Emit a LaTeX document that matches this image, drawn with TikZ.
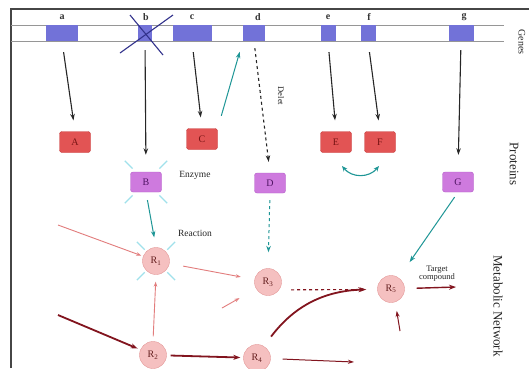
\documentclass[tikz,border=0pt]{standalone}
\usepackage{fontspec}
\setmainfont{Liberation Serif}
\usetikzlibrary{arrows.meta,calc}
\definecolor{geneblue}{RGB}{114,114,216}
\definecolor{xblue}{RGB}{50,50,140}
\definecolor{protred}{RGB}{226,84,84}
\definecolor{protredb}{RGB}{200,62,62}
\definecolor{protredt}{RGB}{120,20,20}
\definecolor{protpur}{RGB}{206,122,222}
\definecolor{protpurb}{RGB}{180,92,200}
\definecolor{protpurt}{RGB}{80,20,100}
\definecolor{metpink}{RGB}{245,192,192}
\definecolor{metpinkb}{RGB}{228,152,152}
\definecolor{mettext}{RGB}{100,30,30}
\definecolor{tealc}{RGB}{30,150,150}
\definecolor{burst}{RGB}{160,225,235}
\definecolor{salmon}{RGB}{226,124,124}
\definecolor{darkred}{RGB}{130,20,30}
\definecolor{framec}{RGB}{70,70,70}
\definecolor{bandc}{RGB}{150,150,150}
\begin{document}
\begin{tikzpicture}[x=1pt,y=-1pt,
  gene/.style={fill=geneblue,draw=none,minimum height=16pt,inner sep=0pt},
  glabel/.style={font=\fontsize{10}{12}\selectfont\bfseries,text=black!80,inner sep=0pt},
  protA/.style={rounded corners=2.5pt,fill=protred,draw=protredb,minimum width=31pt,minimum height=21pt,inner sep=0pt,font=\fontsize{10}{12}\selectfont,text=protredt},
  protB/.style={rounded corners=2.5pt,fill=protpur,draw=protpurb,minimum width=31pt,minimum height=20pt,inner sep=0pt,font=\fontsize{10}{12}\selectfont,text=protpurt},
  met/.style={circle,fill=metpink,draw=metpinkb,minimum size=27pt,inner sep=0pt,font=\fontsize{10}{12}\selectfont,text=mettext},
  blk/.style={draw=black!85,line width=1.1pt,-{Stealth[length=6.5pt,width=4.5pt]}},
  tl/.style={draw=tealc,line width=1pt,-{Stealth[length=6.5pt,width=4.5pt]}},
  sal/.style={draw=salmon,line width=0.9pt,-{Stealth[length=5pt,width=3.5pt]}},
  drk/.style={draw=darkred,line width=1.8pt,-{Stealth[length=7pt,width=5pt]}},
  drkthin/.style={draw=darkred,line width=1pt,-{Stealth[length=6pt,width=4pt]}},
  small/.style={font=\fontsize{9.5}{10}\selectfont,text=black!85,inner sep=0pt,align=center},
  side/.style={font=\fontsize{13}{15}\selectfont,text=black!85,rotate=-90,inner sep=0pt},
  burstline/.style={draw=burst,line width=1.3pt}
]
\useasboundingbox (0,0) rectangle (529,368);
\fill[white] (0,0) rectangle (529,368);
% frame
\draw[framec,line width=1.5pt] (11,368) -- (11,9) -- (529,9);
\draw[bandc,line width=0.6pt] (11,25) -- (504,25);
\draw[bandc,line width=0.6pt] (11,41) -- (504,41);
% genes
\node[gene,minimum width=32pt] (ga) at (62,33) {};
\node[gene,minimum width=14pt] (gb) at (145,33) {};
\node[gene,minimum width=39pt] (gc) at (192,33) {};
\node[gene,minimum width=22pt] (gd) at (254,33) {};
\node[gene,minimum width=15pt] (ge) at (328,33) {};
\node[gene,minimum width=15pt] (gf) at (368,33) {};
\node[gene,minimum width=25pt] (gg) at (461,33) {};
\node[glabel] (la) at (62,17) {a};
\node[glabel] (lb) at (146,17) {b};
\node[glabel] (lc) at (192,17) {c};
\node[glabel] (ld) at (258,17) {d};
\node[glabel] (le) at (328,17) {e};
\node[glabel] (lf) at (369,17) {f};
\node[glabel] (lg) at (464,17) {g};
% cross over b
\coordinate (x1) at (120,53); \coordinate (x2) at (173,15);
\coordinate (x3) at (130,15); \coordinate (x4) at (163,55);
\draw[xblue,line width=1.1pt] (x1) -- (x2);
\draw[xblue,line width=1.1pt] (x3) -- (x4);
% side labels
\node[side,font=\fontsize{10}{12}\selectfont] (tgenes) at (522,42) {Genes};
\node[side] (tprot) at (514,164) {Proteins};
\node[side] (tmet) at (498,306) {Metabolic Network};
% proteins
\node[protA] (A) at (75,142) {A};
\node[protB] (B) at (146,182) {B};
\node[protA] (C) at (202,139) {C};
\node[protB] (D) at (270,183) {D};
\node[protA] (E) at (336,142) {E};
\node[protA] (F) at (380,142) {F};
\node[protB] (G) at (458,182) {G};
% metabolites
\node[met] (R1) at (156,261) {R\textsubscript{1}};
\node[met] (R3) at (268,282) {R\textsubscript{3}};
\node[met] (R2) at (153,355) {R\textsubscript{2}};
\node[met] (R4) at (257,358) {R\textsubscript{4}};
\node[met] (R5) at (391,289) {R\textsubscript{5}};
% bursts
\foreach \a in {45,135,225,315}{
  \draw[burstline] ($(B.center)+(\a:19)$) -- ($(B.center)+(\a:30)$);
  \draw[burstline] ($(R1.center)+(\a:16)$) -- ($(R1.center)+(\a:27)$);
}
% labels
\node[small] (lenz) at (195,175) {Enzyme};
\node[small] (lrea) at (195,233) {Reaction};
\node[small,font=\fontsize{8.5}{9}\selectfont] (ltar) at (437,274) {Target\\[-1pt]compound};
\node[small,rotate=-90,font=\fontsize{8.5}{9}\selectfont] (ldel) at (281,96) {Delet};
% gene -> protein
\draw[blk,shorten <=11pt,shorten >=11pt] (ga.south) -- (A.north);
\draw[blk,shorten <=9pt,shorten >=17pt] (gb.south) -- (B.north);
\draw[blk,shorten <=11pt,shorten >=11pt] (gc.south) -- (C.north);
\draw[tl,shorten <=13pt,shorten >=11pt] (C.north east) -- (gd.south west);
\draw[blk,dashed,shorten <=7pt,shorten >=11pt] (gd.south) -- (D.north);
\draw[blk,shorten <=11pt,shorten >=11pt] (ge.south) -- (E.north);
\draw[blk,shorten <=11pt,shorten >=11pt] (gf.south) -- (F.north);
\draw[blk,shorten <=9pt,shorten >=17pt] (gg.south) -- (G.north);
% E <-> F
\coordinate (ef1) at (342,166);
\coordinate (ef2) at (379,166);
\draw[draw=tealc,line width=1.1pt,{Stealth[length=5.5pt,width=4.5pt]}-{Stealth[length=5.5pt,width=4.5pt]}] (ef1) .. controls (352,178) and (369,178) .. (ef2);
% protein -> metabolite
\draw[tl,shorten <=8pt,shorten >=10pt] (B.south) -- (R1.north);
\draw[tl,dashed,shorten <=7pt,shorten >=16pt] (D.south) -- (R3.north);
\draw[tl,shorten <=6pt,shorten >=19pt] (G.south) -- (R5);
% metabolic network
\coordinate (in1) at (58,225);
\draw[sal,shorten >=2pt] (in1) -- (R1);
\draw[sal,shorten <=14pt,shorten >=14pt] (R1) -- (R3);
\coordinate (in3) at (222,308);
\draw[sal,shorten >=19pt] (in3) -- (R3);
\draw[sal,shorten <=5pt,shorten >=7pt] (R2.north) -- (R1.south);
\coordinate (in2) at (58,315);
\draw[drk,shorten >=3pt] (in2) -- (R2);
\draw[drk,shorten <=4pt,shorten >=3pt] (R2) -- (R4);
\draw[draw=darkred,line width=1.1pt,dashed,-{Stealth[length=6pt,width=4pt]},shorten <=12pt,shorten >=11pt] (R3.-35) -- (R5.182);
\draw[drk,shorten <=12pt,shorten >=12pt] (R4.60) .. controls (295,305) and (325,291) .. (R5.180);
\coordinate (tgt) at (456,287);
\draw[drk,line width=1.4pt,shorten <=12pt] (R5) -- (tgt);
\coordinate (in5) at (400,331);
\draw[drkthin,shorten >=9pt] (in5) -- (R5.-72);
\coordinate (out4) at (354,362);
\draw[drkthin,shorten <=12pt] (R4) -- (out4);
\end{tikzpicture}
\end{document}
